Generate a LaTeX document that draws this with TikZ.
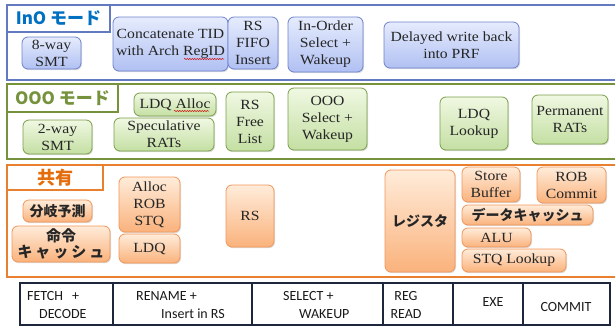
\documentclass[tikz,border=0pt]{standalone}
\usepackage{fontspec}
\setmainfont{Liberation Serif}[FakeStretch=1.12]
\newfontfamily\jpfont{Noto Sans CJK JP}
\newfontfamily\tabfont{Carlito}
\usetikzlibrary{shadows,decorations.pathmorphing}

\definecolor{inoLine}{RGB}{100,122,192}
\definecolor{inoText}{RGB}{0,112,192}
\definecolor{oooLine}{RGB}{118,146,60}
\definecolor{shLine}{RGB}{232,128,48}
\definecolor{shText}{RGB}{228,108,10}
\definecolor{blueTop}{RGB}{230,236,253}
\definecolor{blueBot}{RGB}{176,192,242}
\definecolor{blueEdge}{RGB}{110,130,205}
\definecolor{greenTop}{RGB}{240,248,226}
\definecolor{greenBot}{RGB}{196,223,163}
\definecolor{greenEdge}{RGB}{122,160,72}
\definecolor{orTop}{RGB}{255,236,218}
\definecolor{orBot}{RGB}{250,178,124}
\definecolor{orEdge}{RGB}{240,150,90}
\definecolor{tabLine}{RGB}{30,38,60}

% box given by its corners (x1,y1) and (x2,y2)
\newcommand\mkbox[7]{\node[#2, minimum width={(#5-#3)*1pt}, minimum height={(#6-#4)*1pt}] (#1) at ({(#3+#5)/2},{(#4+#6)/2}) {#7};}

\begin{document}
\begin{tikzpicture}[x=1pt,y=-1pt,
  cell/.style={rounded corners=6pt, line width=0.8pt, inner sep=1pt, align=center,
    font=\fontsize{14}{17}\selectfont, text=black!85,
    drop shadow={opacity=.28, shadow xshift=1pt, shadow yshift=-1.2pt}},
  bluecell/.style={cell, draw=blueEdge, top color=blueTop, bottom color=blueBot},
  greencell/.style={cell, draw=greenEdge, top color=greenTop, bottom color=greenBot},
  orcell/.style={cell, draw=orEdge, top color=orTop, bottom color=orBot},
  panel/.style={draw, line width=2.6pt, inner sep=0pt},
  tag/.style={draw, fill=white, line width=2.6pt, inner sep=0pt,
    font=\jpfont\bfseries\fontsize{17}{20}\selectfont},
  tcell/.style={draw=tabLine, line width=1.2pt, inner sep=0pt},
  ttext/.style={inner sep=0pt, font=\tabfont\fontsize{14}{16}\selectfont, text=black!90},
  jp/.style={font=\jpfont\bfseries\fontsize{14}{17}\selectfont},
  squiggle/.style={draw=red!80!black, line width=0.5pt,
    decorate, decoration={snake, amplitude=0.6pt, segment length=2.5pt}}
]
\useasboundingbox (0,0) rectangle (615,327);

% ---- panels ----
\mkbox{inoPanel}{panel, draw=inoLine}{7}{5}{624}{80}{}
\mkbox{oooPanel}{panel, draw=oooLine}{7}{84}{624}{159}{}
\mkbox{shPanel}{panel, draw=shLine}{7}{165}{624}{277}{}

\mkbox{inoTag}{tag, draw=inoLine, text=inoText}{7}{5}{110}{32}{InO モード}
\mkbox{oooTag}{tag, draw=oooLine, text=oooLine}{7}{84}{118}{112}{OOO モード}
\mkbox{shTag}{tag, draw=shLine, text=shText, font=\jpfont\bfseries\fontsize{18}{20}\selectfont}{7}{165}{103}{190}{共有}

% ---- InO mode ----
\mkbox{smtEight}{bluecell}{22}{37}{81}{69}{8-way\\SMT}
\mkbox{concat}{bluecell}{113}{17}{228}{71}{Concatenate TID\\with Arch RegID}
\mkbox{rsFifo}{bluecell}{228}{17}{278}{69}{RS\\FIFO\\Insert}
\mkbox{inoSel}{bluecell}{288}{17}{363}{72}{In-Order\\Select +\\Wakeup}
\mkbox{delayed}{bluecell}{384}{22}{519}{68}{Delayed write back\\into PRF}

% ---- OOO mode ----
\mkbox{ldqAlloc}{greencell}{134}{93}{216}{116}{LDQ Alloc}
\mkbox{smtTwo}{greencell}{23}{120}{92}{154}{2-way\\SMT}
\mkbox{specRat}{greencell}{114}{118}{214}{151}{Speculative\\RATs}
\mkbox{rsFree}{greencell}{226}{92}{274}{151}{RS\\Free\\List}
\mkbox{oooSel}{greencell}{288}{88}{367}{150}{OOO\\Select +\\Wakeup}
\mkbox{ldqLook}{greencell}{440}{97}{508}{150}{LDQ\\Lookup}
\mkbox{permRat}{greencell}{532}{95}{608}{144}{Permanent\\RATs}

% spell-check marks
\coordinate (sqA) at (184,59); \coordinate (sqB) at (224,59);
\draw[squiggle] (sqA) -- (sqB);
\coordinate (sqC) at (174,111); \coordinate (sqD) at (209,111);
\draw[squiggle] (sqC) -- (sqD);

% ---- shared ----
\mkbox{bpred}{orcell, jp}{23}{200}{92}{222}{分岐予測}
\mkbox{icache}{orcell, font=\jpfont\bfseries\fontsize{15}{16}\selectfont}{12}{226}{110}{262}{命令\\キ\hspace{3pt}ャ\hspace{3pt}ッ\hspace{3pt}シ\hspace{3pt}ュ}
\mkbox{allocRob}{orcell}{119}{177}{180}{232}{Alloc\\ROB\\STQ}
\mkbox{ldq}{orcell}{119}{234}{180}{263}{LDQ}
\mkbox{rs}{orcell}{226}{185}{274}{247}{RS}
\mkbox{regs}{orcell, jp}{385}{170}{455}{272}{レジスタ}
\mkbox{stBuf}{orcell}{462}{167}{520}{202}{Store\\Buffer}
\mkbox{robCommit}{orcell}{537}{167}{606}{203}{ROB\\Commit}
\mkbox{dcache}{orcell, jp}{462}{205}{593}{225}{データキャッシュ}
\mkbox{alu}{orcell}{462}{228}{531}{247}{ALU}
\mkbox{stqLook}{orcell}{462}{249}{566}{272}{STQ Lookup}

% ---- pipeline stages ----
\mkbox{stA}{tcell}{20}{283}{113}{325}{}
\mkbox{stB}{tcell}{113}{283}{252}{325}{}
\mkbox{stC}{tcell}{252}{283}{383}{325}{}
\mkbox{stD}{tcell}{383}{283}{453}{325}{}
\mkbox{stE}{tcell}{453}{283}{523}{325}{}
\mkbox{stF}{tcell}{523}{283}{610}{325}{}

\node[ttext, anchor=west] (tA1) at (27,296) {FETCH\hspace{9pt}+};
\node[ttext, anchor=west] (tA2) at (39,314) {DECODE};
\node[ttext, anchor=west] (tB1) at (136,296) {RENAME +};
\node[ttext, anchor=west] (tB2) at (161,314) {Insert in RS};
\node[ttext, anchor=west] (tC1) at (283,296) {SELECT +};
\node[ttext, anchor=west] (tC2) at (299,314) {WAKEUP};
\node[ttext] (tD1) at (406,296) {REG};
\node[ttext] (tD2) at (406,314) {READ};
\node[ttext] (tE) at (493,302) {EXE};
\node[ttext] (tF) at (566,307) {COMMIT};
\end{tikzpicture}
\end{document}
